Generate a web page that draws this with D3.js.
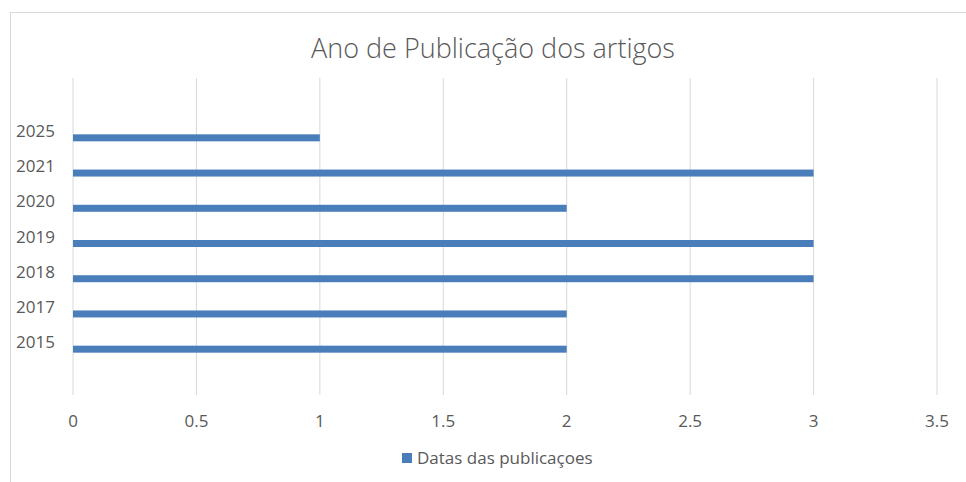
<!DOCTYPE html>
<meta charset="utf-8">
<script src="https://d3js.org/d3.v7.min.js"></script>
<style>
  body { margin: 0; background: #fff; }
  text { font-family: "Open Sans", sans-serif; fill: #595959; }
</style>
<div id="chart"></div>
<script>
// data
const years = ["2015", "2017", "2018", "2019", "2020", "2021", "2025"]
const counts = [2, 2, 3, 3, 2, 3, 1]
const xTicks = [0, 0.5, 1, 1.5, 2, 2.5, 3, 3.5]
const title = "Ano de Publicação dos artigos"
const seriesName = "Datas das publicaçoes"

const W = 966, H = 482
const plot = {left: 73, right: 937, top: 78, bottom: 395}

const svg = d3.select("#chart")
  .append("svg")
  .attr("width", W)
  .attr("height", H)

// chart frame
svg.append("rect")
  .attr("x", 10.5).attr("y", 12.5)
  .attr("width", W + 10).attr("height", H + 10)
  .attr("fill", "none")
  .attr("stroke", "#d9d9d9")

const x = d3.scaleLinear()
  .domain([0, 3.5])
  .range([plot.left, plot.right])

// Excel leaves an empty slot above and below the categories
const y = d3.scaleBand()
  .domain(years.slice().reverse())
  .range([plot.top, plot.bottom])
  .paddingInner(0)
  .paddingOuter(1)

// vertical gridlines
svg.append("g")
  .selectAll("line")
  .data(xTicks)
  .join("line")
    .attr("x1", d => x(d)).attr("x2", d => x(d))
    .attr("y1", plot.top).attr("y2", plot.bottom)
    .attr("stroke", "#d9d9d9")
    .attr("stroke-width", 1)

// x tick labels
svg.append("g")
  .selectAll("text")
  .data(xTicks)
  .join("text")
    .attr("x", d => x(d))
    .attr("y", 427)
    .attr("text-anchor", "middle")
    .style("font-size", "17px")
    .text(d => d)

// category labels
svg.append("g")
  .selectAll("text")
  .data(years)
  .join("text")
    .attr("x", 55)
    .attr("y", d => y(d) + y.bandwidth() / 2 + 6)
    .attr("text-anchor", "end")
    .style("font-size", "17px")
    .text(d => d)

// bars (sit a little below the band centre, as in the original)
const barH = 7
svg.append("g")
  .selectAll("rect")
  .data(years)
  .join("rect")
    .attr("x", x(0))
    .attr("y", d => y(d) + y.bandwidth() / 2 + 3.5)
    .attr("width", (d, i) => x(counts[i]) - x(0))
    .attr("height", barH)
    .attr("fill", "#4A7EBB")

// title
svg.append("text")
  .attr("x", 493)
  .attr("y", 58)
  .attr("text-anchor", "middle")
  .style("font-size", "27px")
  .style("font-weight", 300)
  .text(title)

// legend
svg.append("rect")
  .attr("x", 402).attr("y", 453)
  .attr("width", 10).attr("height", 10)
  .attr("fill", "#4A7EBB")
svg.append("text")
  .attr("x", 417)
  .attr("y", 464)
  .style("font-size", "17px")
  .text(seriesName)
</script>
